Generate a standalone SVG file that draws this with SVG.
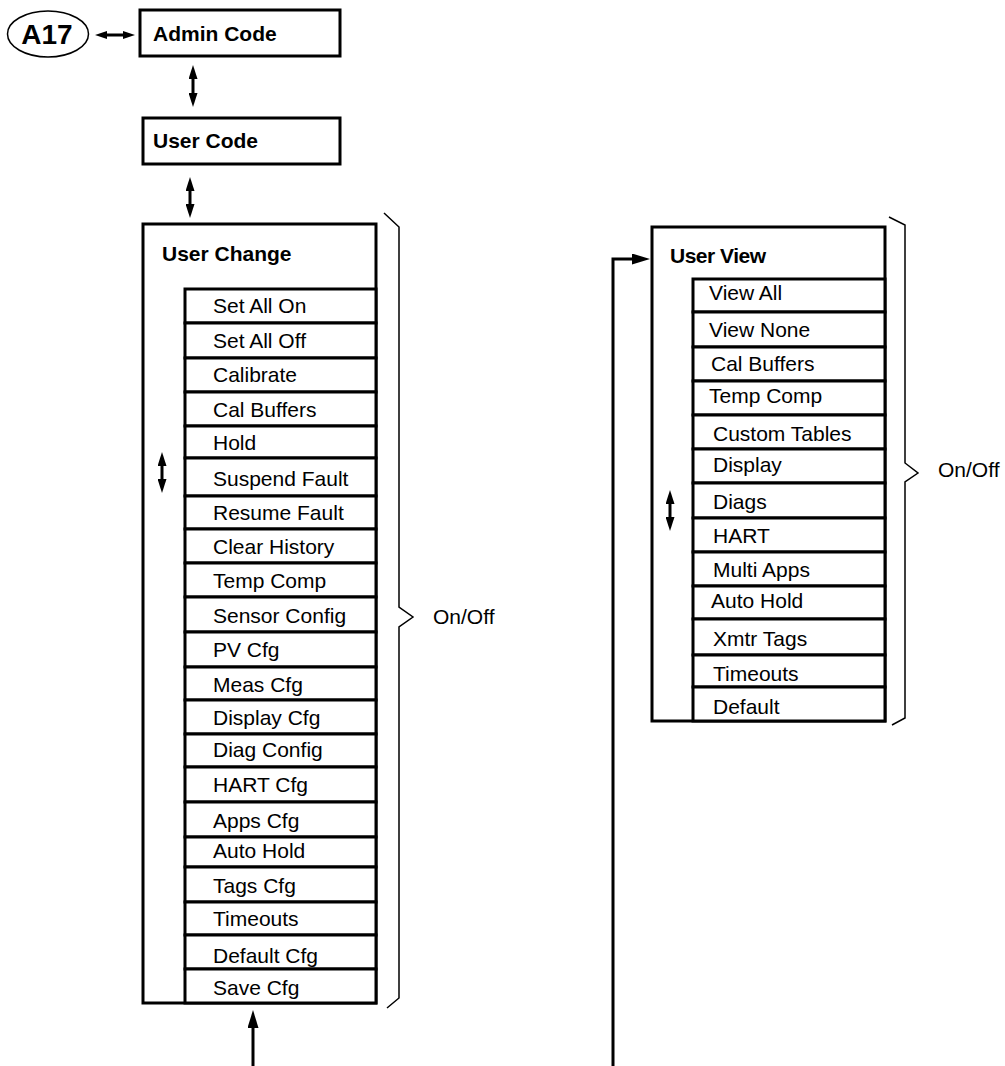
<svg xmlns="http://www.w3.org/2000/svg" width="1005" height="1066" viewBox="0 0 1005 1066">
<style>
.box{fill:none;stroke:#000;stroke-width:3}
.row{fill:#fff;stroke:#000;stroke-width:3}
.t{font-family:"Liberation Sans",Arial,Helvetica,sans-serif;font-size:21px;fill:#000}
.b{font-weight:bold}
.ln{fill:none;stroke:#000;stroke-width:3}
.sm{marker-start:url(#ah);marker-end:url(#ah)}
.brace{fill:none;stroke:#000;stroke-width:1.5;stroke-linejoin:miter}
</style>
<defs>
<marker id="ah" viewBox="0 0 14 9" refX="2" refY="4.5" markerWidth="14" markerHeight="9" orient="auto-start-reverse" markerUnits="userSpaceOnUse"><path d="M0,0 L14,4.5 L0,9 z" fill="#000"/></marker>
<marker id="ah2" viewBox="0 0 12 8" refX="2" refY="4" markerWidth="12" markerHeight="8" orient="auto-start-reverse" markerUnits="userSpaceOnUse"><path d="M0,0 L12,4 L0,8 z" fill="#000"/></marker>
<marker id="big" viewBox="0 0 18 11" refX="3" refY="5.5" markerWidth="18" markerHeight="11" orient="auto" markerUnits="userSpaceOnUse"><path d="M0,0 L18,5.5 L0,11 z" fill="#000"/></marker>
</defs>

<g id="a17">
<ellipse cx="48" cy="34" rx="40.5" ry="23" fill="none" stroke="#000" stroke-width="1.5"/>
<text class="t b" x="47" y="44" text-anchor="middle" style="font-size:28px">A17</text>
</g>

<g id="admin-code">
<rect class="box" x="140" y="10" width="200" height="46"/>
<text class="t b" x="153" y="41">Admin Code</text>
</g>

<g id="user-code">
<rect class="box" x="143" y="118" width="197" height="46"/>
<text class="t b" x="153" y="148">User Code</text>
</g>

<g id="user-change">
<rect class="box" x="143" y="224" width="233" height="779"/>
<text class="t b" x="162" y="261">User Change</text>
<g id="uc-rows">
<rect class="row" x="185" y="289" width="191" height="34"/><text class="t" x="213" y="313">Set All On</text>
<rect class="row" x="185" y="323" width="191" height="35"/><text class="t" x="213" y="348">Set All Off</text>
<rect class="row" x="185" y="358" width="191" height="34"/><text class="t" x="213" y="382">Calibrate</text>
<rect class="row" x="185" y="392" width="191" height="34"/><text class="t" x="213" y="417">Cal Buffers</text>
<rect class="row" x="185" y="426" width="191" height="32"/><text class="t" x="213" y="450">Hold</text>
<rect class="row" x="185" y="458" width="191" height="38"/><text class="t" x="213" y="486">Suspend Fault</text>
<rect class="row" x="185" y="496" width="191" height="33"/><text class="t" x="213" y="520">Resume Fault</text>
<rect class="row" x="185" y="529" width="191" height="34"/><text class="t" x="213" y="554">Clear History</text>
<rect class="row" x="185" y="563" width="191" height="34"/><text class="t" x="213" y="588">Temp Comp</text>
<rect class="row" x="185" y="597" width="191" height="35"/><text class="t" x="213" y="623">Sensor Config</text>
<rect class="row" x="185" y="632" width="191" height="35"/><text class="t" x="213" y="657">PV Cfg</text>
<rect class="row" x="185" y="667" width="191" height="33"/><text class="t" x="213" y="692">Meas Cfg</text>
<rect class="row" x="185" y="700" width="191" height="34"/><text class="t" x="213" y="725">Display Cfg</text>
<rect class="row" x="185" y="734" width="191" height="33"/><text class="t" x="213" y="757">Diag Config</text>
<rect class="row" x="185" y="767" width="191" height="35"/><text class="t" x="213" y="792">HART Cfg</text>
<rect class="row" x="185" y="802" width="191" height="35"/><text class="t" x="213" y="828">Apps Cfg</text>
<rect class="row" x="185" y="837" width="191" height="30"/><text class="t" x="213" y="858">Auto Hold</text>
<rect class="row" x="185" y="867" width="191" height="35"/><text class="t" x="213" y="893">Tags Cfg</text>
<rect class="row" x="185" y="902" width="191" height="33"/><text class="t" x="213" y="926">Timeouts</text>
<rect class="row" x="185" y="935" width="191" height="34"/><text class="t" x="213" y="963">Default Cfg</text>
<rect class="row" x="185" y="969" width="191" height="34"/><text class="t" x="213" y="995">Save Cfg</text>
</g>
</g>

<g id="user-view">
<rect class="box" x="652" y="227" width="233" height="494"/>
<text class="t b" x="670" y="263" letter-spacing="-0.5">User View</text>
<g id="uv-rows">
<rect class="row" x="693" y="279" width="192" height="33"/><text class="t" x="709" y="300">View All</text>
<rect class="row" x="693" y="312" width="192" height="35"/><text class="t" x="709" y="337">View None</text>
<rect class="row" x="693" y="347" width="192" height="34"/><text class="t" x="711" y="371">Cal Buffers</text>
<rect class="row" x="693" y="381" width="192" height="34"/><text class="t" x="709" y="403">Temp Comp</text>
<rect class="row" x="693" y="415" width="192" height="34"/><text class="t" x="713" y="441">Custom Tables</text>
<rect class="row" x="693" y="449" width="192" height="34"/><text class="t" x="713" y="472">Display</text>
<rect class="row" x="693" y="483" width="192" height="35"/><text class="t" x="713" y="509">Diags</text>
<rect class="row" x="693" y="518" width="192" height="34"/><text class="t" x="713" y="543">HART</text>
<rect class="row" x="693" y="552" width="192" height="34"/><text class="t" x="713" y="577">Multi Apps</text>
<rect class="row" x="693" y="586" width="192" height="33"/><text class="t" x="711" y="608">Auto Hold</text>
<rect class="row" x="693" y="619" width="192" height="36"/><text class="t" x="713" y="646">Xmtr Tags</text>
<rect class="row" x="693" y="655" width="192" height="32"/><text class="t" x="713" y="681">Timeouts</text>
<rect class="row" x="693" y="687" width="192" height="34"/><text class="t" x="713" y="714">Default</text>
</g>
</g>

<g id="brace-left">
<polyline class="brace" points="384,213 399,227 399,607 413,617 399,627 399,998 387,1008"/>
<text class="t" x="433" y="624">On/Off</text>
</g>
<g id="brace-right">
<polyline class="brace" points="889,217 905,225 905,463 918,473 905,482 905,718 892,725"/>
<text class="t" x="938" y="477">On/Off</text>
</g>

<g id="connectors">
<line class="ln" x1="105" y1="35" x2="125" y2="35" marker-start="url(#ah2)" marker-end="url(#ah2)"/>
<line class="ln sm" x1="193" y1="77" x2="193" y2="95"/>
<line class="ln sm" x1="190" y1="189" x2="190" y2="206"/>
<line class="ln sm" x1="162" y1="464" x2="162" y2="481"/>
<line class="ln sm" x1="670" y1="502" x2="670" y2="519"/>
<line class="ln" x1="253" y1="1066" x2="253" y2="1025" marker-end="url(#big)"/>
<polyline class="ln" points="613,1066 613,259 635,259" marker-end="url(#big)"/>
</g>
</svg>
